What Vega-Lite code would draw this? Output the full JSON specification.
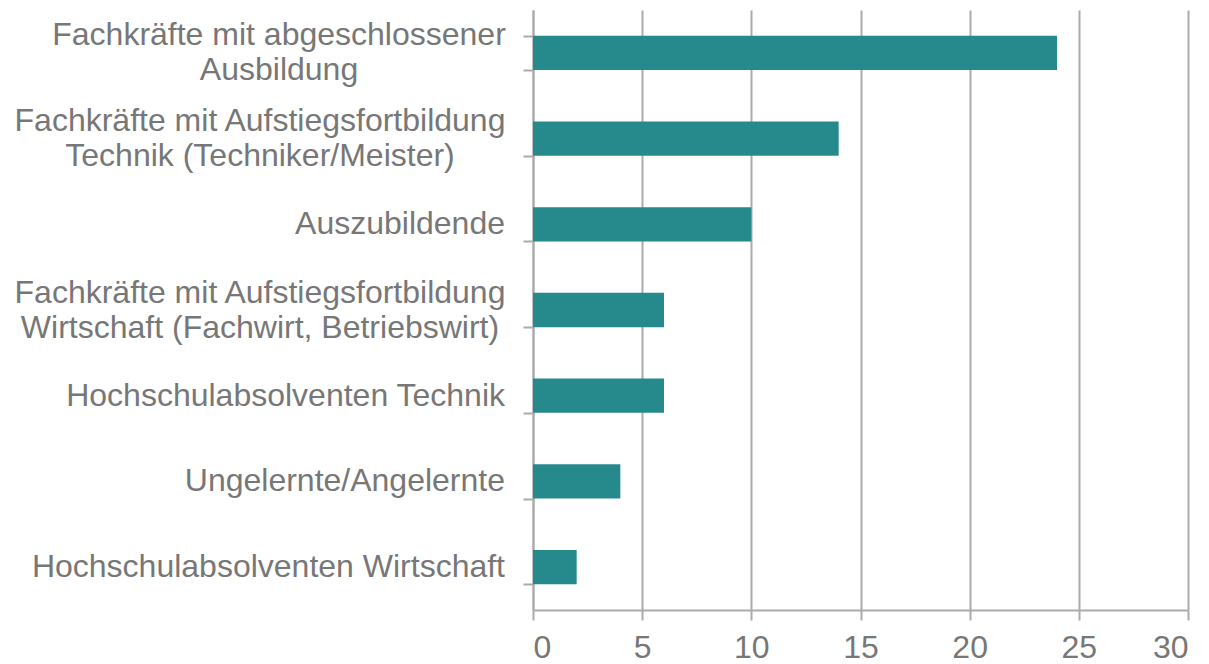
{
  "$schema": "https://vega.github.io/schema/vega-lite/v6.json",
  "width": 655,
  "height": 600,
  "autosize": {"type": "none"},
  "padding": {"left": 533, "top": 10, "right": 21, "bottom": 54},
  "background": "white",
  "data": {
    "values": [
      {"kategorie": "Fachkräfte mit abgeschlossener|Ausbildung", "gruppe": "zweizeilig_a", "wert": 24},
      {"kategorie": "Fachkräfte mit Aufstiegsfortbildung|Technik (Techniker/Meister)", "gruppe": "zweizeilig_b", "wert": 14},
      {"kategorie": "Auszubildende", "gruppe": "einzeilig", "wert": 10},
      {"kategorie": "Fachkräfte mit Aufstiegsfortbildung|Wirtschaft (Fachwirt, Betriebswirt)", "gruppe": "zweizeilig_b", "wert": 6},
      {"kategorie": "Hochschulabsolventen Technik", "gruppe": "einzeilig", "wert": 6},
      {"kategorie": "Ungelernte/Angelernte", "gruppe": "einzeilig", "wert": 4},
      {"kategorie": "Hochschulabsolventen Wirtschaft", "gruppe": "einzeilig", "wert": 2}
    ]
  },
  "encoding": {
    "y": {
      "field": "kategorie",
      "type": "nominal",
      "sort": null,
      "scale": {"paddingInner": 0.6, "paddingOuter": 0.3},
      "axis": {
        "title": null,
        "labels": false,
        "tickBand": "extent",
        "tickSize": 10,
        "tickColor": "#ABABAB",
        "tickWidth": 2,
        "domainColor": "#ABABAB",
        "domainWidth": 2,
        "grid": false
      }
    }
  },
  "layer": [
    {
      "mark": {"type": "bar", "color": "#268A8C"},
      "encoding": {
        "x": {
          "field": "wert",
          "type": "quantitative",
          "scale": {"domain": [0, 30], "nice": false},
          "axis": {
            "title": null,
            "values": [0, 5, 10, 15, 20, 25, 30],
            "labelFont": "Liberation Sans",
            "labelFontSize": 32,
            "labelColor": "#777777",
            "labelPadding": 12,
            "tickSize": 10,
            "tickColor": "#ABABAB",
            "tickWidth": 2,
            "domainColor": "#ABABAB",
            "domainWidth": 2,
            "grid": true,
            "gridColor": "#ABABAB",
            "gridWidth": 2
          }
        }
      }
    },
    {
      "transform": [{"filter": "datum.gruppe == 'einzeilig'"}],
      "mark": {"type": "text", "align": "right", "baseline": "middle", "dx": -28, "font": "Liberation Sans", "fontSize": 32, "color": "#777777"},
      "encoding": {
        "x": {"datum": 0, "type": "quantitative"},
        "text": {"field": "kategorie"}
      }
    },
    {
      "transform": [{"filter": "datum.gruppe == 'zweizeilig_a'"}],
      "mark": {"type": "text", "align": "center", "baseline": "middle", "dx": -254, "dy": -17.5, "lineBreak": "|", "lineHeight": 35, "font": "Liberation Sans", "fontSize": 32, "color": "#777777"},
      "encoding": {
        "x": {"datum": 0, "type": "quantitative"},
        "text": {"field": "kategorie"}
      }
    },
    {
      "transform": [{"filter": "datum.gruppe == 'zweizeilig_b'"}],
      "mark": {"type": "text", "align": "center", "baseline": "middle", "dx": -273, "dy": -17.5, "lineBreak": "|", "lineHeight": 35, "font": "Liberation Sans", "fontSize": 32, "color": "#777777"},
      "encoding": {
        "x": {"datum": 0, "type": "quantitative"},
        "text": {"field": "kategorie"}
      }
    }
  ],
  "config": {"view": {"stroke": null}}
}
